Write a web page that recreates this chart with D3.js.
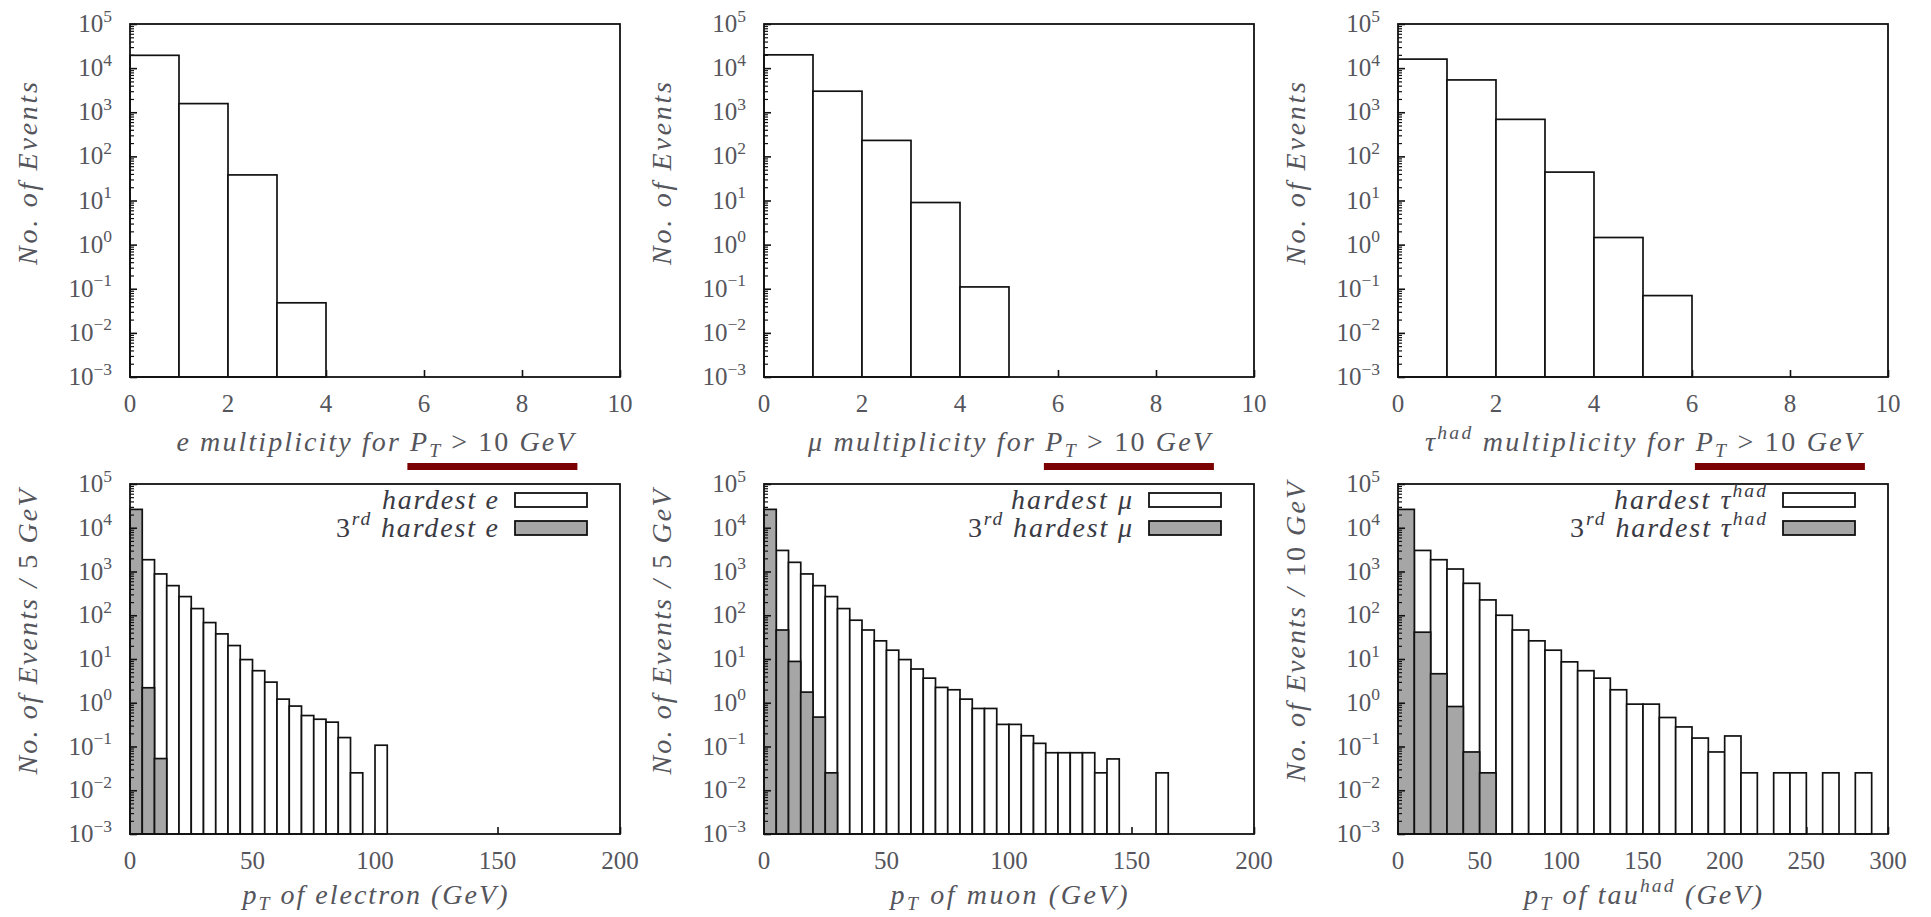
<!DOCTYPE html>
<html>
<head>
<meta charset="utf-8">
<script src="https://cdn.jsdelivr.net/npm/d3@7"></script>
<style>
  body { margin: 0; background: white; }
  svg text { white-space: pre; font-family: "Liberation Serif", "DejaVu Serif", serif; }
</style>
</head>
<body>
<div class="canvas"></div>
<script>
var width = 1931;
var height = 917;

// multiplicity histograms (bin width 1)
const eMult = [19500, 1570, 38, 0.048];
const muMult = [20000, 3000, 230, 9, 0.11];
const tauMult = [16000, 5400, 690, 44, 1.45, 0.07];

// pT histograms, 0 = empty bin
const eHardest = [0, 1860, 880, 475, 267, 142, 68, 37.5, 20.3, 9.7, 5.4, 2.96, 1.21, 0.84, 0.51, 0.42, 0.36, 0.16, 0.025, 0, 0.107];
const eThird = [26300, 2.2, 0.053];
const muHardest = [0, 3030, 1620, 880, 475, 267, 142, 77, 46, 26, 15.9, 9.7, 5.9, 3.65, 2.24, 1.98, 1.21, 0.74, 0.74, 0.32, 0.32, 0.176, 0.118, 0.072, 0.072, 0.072, 0.072, 0.025, 0.052, 0, 0, 0, 0.025];
const muThird = [26300, 46, 8.8, 1.75, 0.47, 0.025];
const tauHardest = [0, 3030, 1860, 1140, 537, 224, 100, 46, 26, 15.9, 8.6, 5.4, 3.65, 1.98, 0.93, 0.93, 0.46, 0.28, 0.156, 0.075, 0.174, 0.025, 0, 0.025, 0.025, 0, 0.025, 0, 0.025];
const tauThird = [26300, 41, 4.6, 0.82, 0.075, 0.025];

const yDecades = [-3, -2, -1, 0, 1, 2, 3, 4, 5];
const multTicks = [0, 2, 4, 6, 8, 10];
const ptTicks200 = [0, 50, 100, 150, 200];
const ptTicks300 = [0, 50, 100, 150, 200, 250, 300];

const colLeft = [130, 764, 1398];
const colW = 490;
const rowTop = [24, 484];
const rowH = [353, 350];

const fs = 25;
const lfs = 28;
const textCol = "#55555c";
const grayFill = "#a6a6a6";

var svg = d3.select(".canvas").append("svg")
    .attr("width", width)
    .attr("height", height)
    .style("background", "white");

function rich(el, parts, size) {
    let cur = 0;
    parts.forEach(p => {
        const shift = p.sub ? size * 0.22 : p.sup ? -size * 0.42 : 0;
        const ts = el.append("tspan").text(p.t).attr("dy", shift - cur);
        cur = shift;
        if (p.sub || p.sup) ts.attr("font-size", size * 0.7);
        if (p.up) ts.attr("font-style", "normal");
    });
}

const gtPart = [{ t: " > 10 ", up: true }, { t: "GeV" }];
const multLabel = lead => lead.concat([{ t: " multiplicity for " }, { t: "P" }, { t: "T", sub: true }], gtPart);

const panels = [
    { col: 0, row: 0, xMax: 10, ticks: multTicks, bin: 1, series: [{ v: eMult, fill: "white" }],
      xlabel: multLabel([{ t: "e" }]), xw: 397, ylabel: [{ t: "No. of Events" }], yw: 183, underline: true },
    { col: 1, row: 0, xMax: 10, ticks: multTicks, bin: 1, series: [{ v: muMult, fill: "white" }],
      xlabel: multLabel([{ t: "μ" }]), xw: 402, ylabel: [{ t: "No. of Events" }], yw: 183, underline: true },
    { col: 2, row: 0, xMax: 10, ticks: multTicks, bin: 1, series: [{ v: tauMult, fill: "white" }],
      xlabel: multLabel([{ t: "τ" }, { t: "had", sup: true }]), xw: 436, ylabel: [{ t: "No. of Events" }], yw: 183, underline: true },
    { col: 0, row: 1, xMax: 200, ticks: ptTicks200, bin: 5,
      series: [{ v: eHardest, fill: "white" }, { v: eThird, fill: grayFill }],
      legend: [[{ t: "hardest e" }], [{ t: "3", up: true }, { t: "rd", sup: true }, { t: " hardest e" }]], lw: [116, 162],
      xlabel: [{ t: "p" }, { t: "T", sub: true }, { t: " of electron (GeV)" }], xw: 265,
      ylabel: [{ t: "No. of Events / " }, { t: "5", up: true }, { t: " GeV" }], yw: 285 },
    { col: 1, row: 1, xMax: 200, ticks: ptTicks200, bin: 5,
      series: [{ v: muHardest, fill: "white" }, { v: muThird, fill: grayFill }],
      legend: [[{ t: "hardest μ" }], [{ t: "3", up: true }, { t: "rd", sup: true }, { t: " hardest μ" }]], lw: [121, 164],
      xlabel: [{ t: "p" }, { t: "T", sub: true }, { t: " of muon (GeV)" }], xw: 237,
      ylabel: [{ t: "No. of Events / " }, { t: "5", up: true }, { t: " GeV" }], yw: 285 },
    { col: 2, row: 1, xMax: 300, ticks: ptTicks300, bin: 10,
      series: [{ v: tauHardest, fill: "white" }, { v: tauThird, fill: grayFill }],
      legend: [[{ t: "hardest τ" }, { t: "had", sup: true }], [{ t: "3", up: true }, { t: "rd", sup: true }, { t: " hardest τ" }, { t: "had", sup: true }]], lw: [152, 196],
      xlabel: [{ t: "p" }, { t: "T", sub: true }, { t: " of tau" }, { t: "had", sup: true }, { t: " (GeV)" }], xw: 238,
      ylabel: [{ t: "No. of Events / " }, { t: "10", up: true }, { t: " GeV" }], yw: 300 }
];

panels.forEach(p => {
    const left = colLeft[p.col], top = rowTop[p.row], h = rowH[p.row];
    const x = d3.scaleLinear().domain([0, p.xMax]).range([left, left + colW]);
    const y = d3.scaleLog().domain([1e-3, 1e5]).range([top + h, top]);
    const g = svg.append("g");

    // x ticks (inward), drawn under the bars
    g.append("g")
        .attr("transform", `translate(0,${top + h})`)
        .call(d3.axisBottom(x).tickValues(p.ticks).tickSizeInner(-7).tickSizeOuter(0).tickFormat(""))
        .call(a => a.select(".domain").remove())
        .selectAll("line").attr("stroke", "#111").attr("stroke-width", 1.6);

    g.selectAll("text.xt").data(p.ticks).enter().append("text")
        .attr("class", "xt")
        .attr("x", d => x(d)).attr("y", top + h + 35)
        .attr("text-anchor", "middle").attr("font-size", fs).attr("fill", textCol)
        .text(d => d);

    // bars
    p.series.forEach(s => {
        g.selectAll(null).data(s.v.map((v, i) => ({ v, i })).filter(d => d.v > 0)).enter().append("rect")
            .attr("x", d => x(d.i * p.bin))
            .attr("width", d => x((d.i + 1) * p.bin) - x(d.i * p.bin))
            .attr("y", d => y(d.v))
            .attr("height", d => y(1e-3) - y(d.v))
            .attr("fill", s.fill)
            .attr("stroke", "#111")
            .attr("stroke-width", 1.7);
    });

    // y ticks: majors and minors, inward
    const minors = [];
    yDecades.slice(0, -1).forEach(e => { for (let k = 2; k <= 9; k++) minors.push(k * Math.pow(10, e)); });
    g.append("g")
        .attr("transform", `translate(${left},0)`)
        .call(d3.axisLeft(y).tickValues(minors).tickSizeInner(-4).tickSizeOuter(0).tickFormat(""))
        .call(a => a.select(".domain").remove())
        .selectAll("line").attr("stroke", "#111").attr("stroke-width", 1.2);
    g.append("g")
        .attr("transform", `translate(${left},0)`)
        .call(d3.axisLeft(y).tickValues(yDecades.map(e => Math.pow(10, e))).tickSizeInner(-7).tickSizeOuter(0).tickFormat(""))
        .call(a => a.select(".domain").remove())
        .selectAll("line").attr("stroke", "#111").attr("stroke-width", 1.6);

    yDecades.forEach(e => {
        const t = g.append("text")
            .attr("x", left - 18).attr("y", y(Math.pow(10, e)) + 8)
            .attr("text-anchor", "end").attr("font-size", fs).attr("fill", textCol);
        rich(t, [{ t: "10" }, { t: e < 0 ? "−" + (-e) : String(e), sup: true }], fs);
    });

    // frame
    g.append("rect")
        .attr("x", left).attr("y", top).attr("width", colW).attr("height", h)
        .attr("fill", "none").attr("stroke", "#111").attr("stroke-width", 1.8);

    // x label
    const xl = g.append("text")
        .attr("x", left + colW / 2).attr("y", top + h + (p.row ? 70 : 74))
        .attr("text-anchor", "middle").attr("font-size", lfs).attr("font-style", "italic")
        .attr("fill", textCol)
        .attr("textLength", p.xw).attr("lengthAdjust", "spacing");
    rich(xl, p.xlabel, lfs);

    if (p.underline) {
        const bb = xl.node().getBBox();
        const end = bb.x + bb.width;
        g.append("rect")
            .attr("x", end - 169).attr("y", 463).attr("width", 170).attr("height", 7)
            .attr("fill", "#7b0000");
    }

    // y label
    const cy = top + h / 2 - 27;
    const yl = g.append("text")
        .attr("transform", `translate(${left - 93},${cy}) rotate(-90)`)
        .attr("text-anchor", "middle").attr("font-size", lfs).attr("font-style", "italic")
        .attr("fill", textCol)
        .attr("textLength", p.yw).attr("lengthAdjust", "spacing");
    rich(yl, p.ylabel, lfs);

    // legend
    if (p.legend) {
        const right = left + colW;
        p.legend.forEach((parts, i) => {
            const cyL = top + 16 + i * 28;
            const lt = g.append("text")
                .attr("x", right - 122).attr("y", cyL + 9)
                .attr("text-anchor", "end").attr("font-size", lfs).attr("font-style", "italic")
                .attr("fill", "#3a3a44")
                .attr("textLength", p.lw[i]).attr("lengthAdjust", "spacing");
            rich(lt, parts, lfs);
            g.append("rect")
                .attr("x", right - 105).attr("y", cyL - 7).attr("width", 72).attr("height", 14)
                .attr("fill", p.series[i].fill).attr("stroke", "#111").attr("stroke-width", 1.8);
        });
    }
});
</script>
</body>
</html>
